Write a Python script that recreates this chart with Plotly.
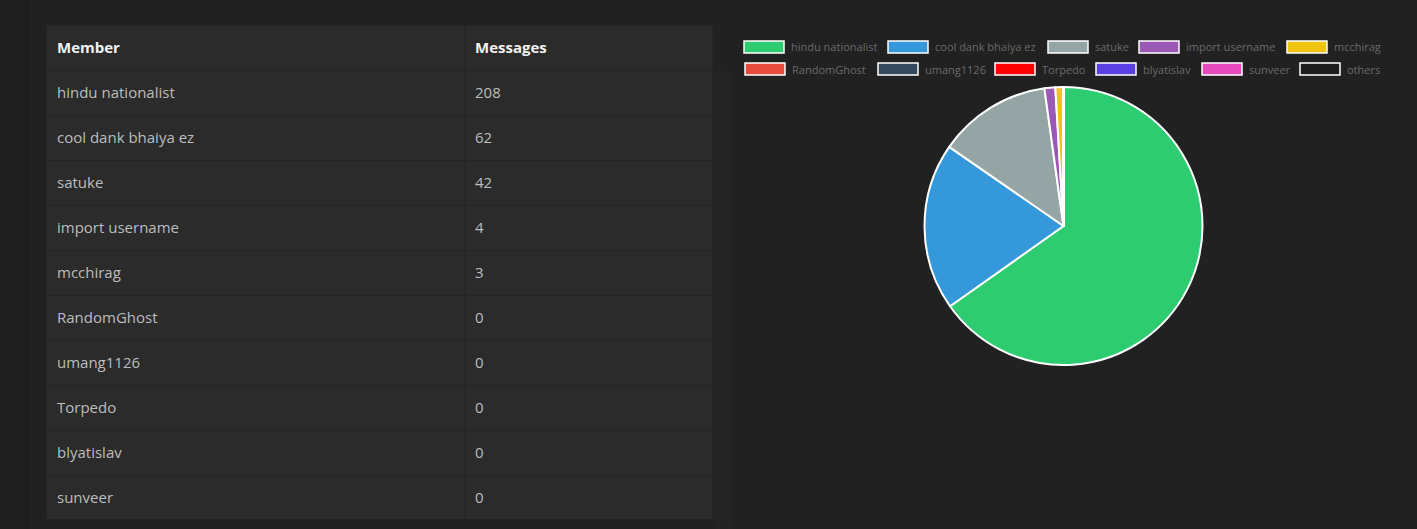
import plotly.graph_objects as go

# ---- data ----
members = ["hindu nationalist", "cool dank bhaiya ez", "satuke", "import username",
           "mcchirag", "RandomGhost", "umang1126", "Torpedo", "blyatislav", "sunveer"]
messages = [208, 62, 42, 4, 3, 0, 0, 0, 0, 0]
pie_labels = members + ["others"]
pie_values = messages + [0]
pie_colors = ["#2ecc71", "#3498db", "#95a5a6", "#9b59b6", "#f1c40f", "#e74c3c",
              "#34495e", "#ff0000", "#5b41e4", "#e84abd", "#1c1c1c"]
headers = ["Member", "Messages"]

W, H = 1417, 529
def px(x):
    return x / W
def py(y):
    return 1 - y / H

FONT = "Open Sans, Noto Sans, sans-serif"
CLEAR = "rgba(0,0,0,0)"
fig = go.Figure()

# table grid (backgrounds and borders)
fig.add_trace(go.Table(
    domain=dict(x=[px(46), px(712)], y=[py(520), py(25)]),
    columnwidth=[418, 248],
    header=dict(values=["", ""], fill_color="#2b2b2b", line_color="#252525",
                line_width=1, height=45),
    cells=dict(values=[[""] * len(members), [""] * len(members)],
               fill_color="#2b2b2b", line_color="#252525", line_width=1, height=45),
))
# table text (same table content, vertically centred in the rows)
fig.add_trace(go.Table(
    domain=dict(x=[px(49), px(715)], y=[py(529), py(29)]),
    columnwidth=[418, 248],
    header=dict(values=[f"<b>{h}</b>" for h in headers],
                fill_color=CLEAR, line_color=CLEAR, line_width=0,
                align="left", height=50,
                font=dict(family=FONT, size=15, color="#f2f2f2")),
    cells=dict(values=[members, messages],
               fill_color=CLEAR, line_color=CLEAR, line_width=0,
               align="left", height=45,
               font=dict(family=FONT, size=15, color="#bdbdbd")),
))

fig.add_trace(go.Pie(
    labels=pie_labels, values=pie_values, sort=False, direction="clockwise",
    rotation=0, textinfo="none", hoverinfo="label+value",
    marker=dict(colors=pie_colors, line=dict(color="#ffffff", width=2)),
    domain=dict(x=[px(924.5), px(1202.5)], y=[py(365), py(87)]),
    showlegend=False,
))

# Chart.js-style legend (layout only)
legend_rows = [[744, 888, 1048, 1139, 1287], [745, 878, 995, 1096, 1202, 1300]]
legend_row_y = [47, 69]
shapes = [dict(type="rect", xref="paper", yref="paper", x0=0, x1=px(30), y0=0, y1=1,
               fillcolor="#1e1e1e", line_width=0, layer="below")]
annotations = []
i = 0
for r, xs in enumerate(legend_rows):
    yc = legend_row_y[r]
    for x0 in xs:
        shapes.append(dict(type="rect", xref="paper", yref="paper",
                           x0=px(x0), x1=px(x0 + 40), y0=py(yc + 6), y1=py(yc - 6),
                           fillcolor=pie_colors[i], line=dict(color="#ffffff", width=1.5)))
        annotations.append(dict(xref="paper", yref="paper", x=px(x0 + 45), y=py(yc),
                                xanchor="left", yanchor="middle", showarrow=False,
                                text=pie_labels[i],
                                font=dict(family=FONT, size=11, color="#6a6a6a")))
        i += 1

fig.update_layout(
    width=W, height=H, margin=dict(l=0, r=0, t=0, b=0),
    paper_bgcolor="#212121", plot_bgcolor="#212121",
    shapes=shapes, annotations=annotations,
)
fig.write_html("out.html")
